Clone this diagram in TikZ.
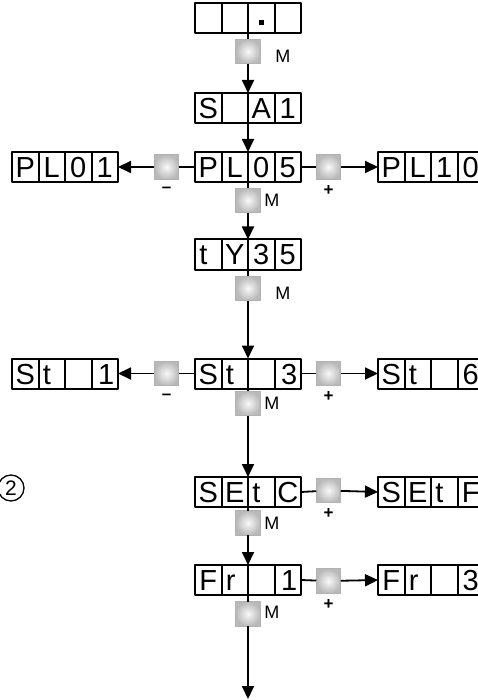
\documentclass[tikz,border=0pt]{standalone}
\usepackage{fontspec}
\setmainfont{Liberation Sans}
\usetikzlibrary{positioning,arrows.meta,calc}
\tikzset{
  cell/.style={draw, line width=2pt, outer sep=0pt, inner sep=0pt, minimum width=26.5pt, minimum height=30pt, text height=21pt, text depth=0pt, font=\fontsize{29}{29}\selectfont},
  keybtn/.style={draw=gray!60, line width=1.2pt, minimum size=24.5pt, inner sep=0pt, outer sep=0pt, inner color=gray!5, outer color=gray!55},
  keylbl/.style={inner sep=0pt, font=\fontsize{18}{18}\selectfont},
  signlbl/.style={inner sep=0pt, font=\bfseries\fontsize{17}{17}\selectfont},
  link/.style={line width=1.8pt},
  go/.style={line width=1.8pt, -{Triangle[length=13pt,width=12pt]}},
}
% one display of four cells, #2 = point between cell 2 and cell 3
\newcommand\display[6]{%
  \node[cell, anchor=east] (#1-2) at (#2) {#4};
  \node[cell, left=0pt of #1-2] (#1-1) {#3};
  \node[cell, right=0pt of #1-2] (#1-3) {#5};
  \node[cell, right=0pt of #1-3] (#1-4) {#6};
}
\newcommand\lc[1]{\makebox[18pt][l]{#1}}
\newcommand\rc[1]{\makebox[19pt][r]{#1}}
\begin{document}
\begin{tikzpicture}[x=1pt, y=-1pt, line join=round]
  \useasboundingbox (0,0) rectangle (478,700);
  \clip (0,0) rectangle (478,700);
  % displays
  \display{dot}{248,18.5}{}{}{\raisebox{4pt}{\rule{4.5pt}{4.5pt}}}{}
  \display{sa}{248,108}{S}{}{A}{1}
  \display{pl}{248,167}{P}{L}{0}{5}
  \display{pll}{65,167}{P}{L}{0}{1}
  \display{plr}{431,167}{P}{L}{1}{0}
  \display{ty}{248,254.5}{\lc{t}}{Y}{3}{5}
  \display{st}{248,373.5}{S}{\lc{t}}{}{\rc{3}}
  \display{stl}{65,373.5}{S}{\lc{t}}{}{\rc{1}}
  \display{str}{431,373.5}{S}{\lc{t}}{}{6}
  \display{setc}{248,492}{S}{E}{\lc{t}}{C}
  \display{setf}{431,492}{S}{E}{\lc{t}}{F}
  \display{fr}{248,580}{F}{\lc{r}}{}{\rc{1}}
  \display{frr}{431,580}{F}{\lc{r}}{}{3}
  % keys
  \node[keybtn] (m1) at (248,51.5) {};
  \node[keylbl, right=15pt of m1, yshift=-4.5pt] (m1l) {M};
  \node[keybtn] (m2) at (248,200.5) {};
  \node[keylbl, right=4pt of m2] (m2l) {M};
  \node[keybtn] (m3) at (248,288.5) {};
  \node[keylbl, right=15pt of m3, yshift=-4.5pt] (m3l) {M};
  \node[keybtn] (m4) at (248,403.5) {};
  \node[keylbl, right=4pt of m4] (m4l) {M};
  \node[keybtn] (m5) at (248,523) {};
  \node[keylbl, right=4pt of m5] (m5l) {M};
  \node[keybtn] (m6) at (248,614) {};
  \node[keylbl, right=4pt of m6, yshift=2pt] (m6l) {M};
  \node[keybtn] (plm) at (166.5,167) {};
  \node[signlbl] (plml) at ($(plm.south)+(0,11)$) {--};
  \node[keybtn] (plp) at (328.5,167) {};
  \node[signlbl] (plpl) at ($(plp.south)+(0,11)$) {+};
  \node[keybtn] (stm) at (166.5,373.5) {};
  \node[signlbl] (stml) at ($(stm.south)+(0,11)$) {--};
  \node[keybtn] (stp) at (328.5,373.5) {};
  \node[signlbl] (stpl) at ($(stp.south)+(0,11)$) {+};
  \node[keybtn] (setp) at (328.5,490.5) {};
  \node[signlbl] (setpl) at ($(setp.south)+(0,11)$) {+};
  \node[keybtn] (frp) at (328.5,581) {};
  \node[signlbl] (frpl) at ($(frp.south)+(0,11)$) {+};
  \node[draw, circle, line width=1.3pt, minimum size=26pt, inner sep=0pt, font=\fontsize{21}{21}\selectfont] (note) at (11,488) {2};
  % connectors
  \draw[link] (dot-2.south east) -- (m1);
  \draw[go] (m1) -- (sa-2.north east);
  \draw[go] (sa-2.south east) -- (pl-2.north east);
  \draw[link] (pl-1.west) -- (plm);
  \draw[go] (plm) -- (pll-4.east);
  \draw[link] (pl-4.east) -- (plp);
  \draw[go] (plp) -- (plr-1.west);
  \draw[link] (pl-2.south east) -- (m2);
  \draw[go] (m2) -- (ty-2.north east);
  \draw[link] (ty-2.south east) -- (m3);
  \draw[go] (m3) -- (st-2.north east);
  \draw[link] (st-1.west) -- (stm);
  \draw[go] (stm) -- (stl-4.east);
  \draw[link] (st-4.east) -- (stp);
  \draw[go] (stp) -- (str-1.west);
  \draw[link] (st-2.south east) -- (m4);
  \draw[go] (m4) -- (setc-2.north east);
  \draw[link] (setc-4.east) -- (setp);
  \draw[go] (setp) -- (setf-1.west);
  \draw[link] (setc-2.south east) -- (m5);
  \draw[go] (m5) -- (fr-2.north east);
  \draw[link] (fr-4.east) -- (frp);
  \draw[go] (frp) -- (frr-1.west);
  \draw[link] (fr-2.south east) -- (m6);
  \coordinate (out) at (248,699);
  \draw[go] (m6) -- (out);
\end{tikzpicture}
\end{document}
